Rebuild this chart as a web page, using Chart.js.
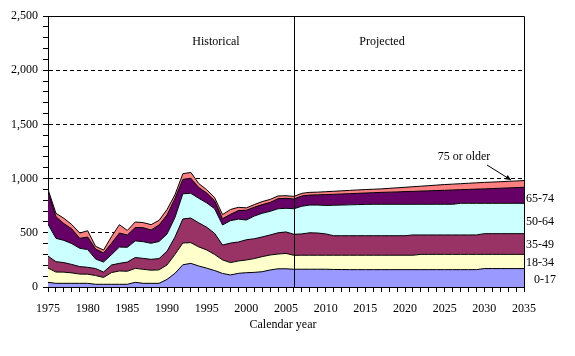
<!DOCTYPE html>
<html>
<head>
<meta charset="utf-8">
<script src="https://cdn.jsdelivr.net/npm/chart.js@4/dist/chart.umd.min.js"></script>
<style>
  html, body { margin: 0; padding: 0; background: #fff; }
  #wrap { width: 575px; height: 356px; }
</style>
</head>
<body>
<div id="wrap"><canvas id="c" width="575" height="356"></canvas></div>
<script>
const years = [1975,1976,1977,1978,1979,1980,1981,1982,1983,1984,1985,1986,1987,1988,1989,1990,
  1991,1992,1993,1994,1995,1996,1997,1998,1999,2000,2001,2002,2003,2004,2005,2006,2007,2008,2009,2010,
  2011,2012,2013,2014,2015,2016,2017,2018,2019,2020,2021,2022,2023,2024,2025,2026,2027,2028,2029,2030,
  2031,2032,2033,2034,2035];

const age0_17 = [43,34,34,34,34,34,25,25,25,25,25,43,34,34,34,70,126,205,218,194,174,152,125,111,126,132,
  135,141,157,168,168,164,164,164,164,164,
  162,161,160,160,160,160,160,160,160,160,160,160,160,160,160,160,160,160,160,
  170,170,170,170,170,170];
const age18_34 = [132,104,103,96,85,84,81,63,108,123,120,129,129,121,124,133,174,201,191,176,168,148,125,114,
  114,117,127,139,138,136,142,128,129,129,129,129,
  131,132,133,133,133,133,133,133,133,133,133,
  141,141,141,141,141,141,141,141,
  131,131,131,131,131,131];
const age35_49 = [110,96,88,78,69,64,64,50,70,70,85,100,101,100,104,127,160,222,227,222,210,195,137,180,175,
  187,183,182,185,196,198,194,197,207,205,197,
  180,180,180,180,180,180,180,180,180,180,
  187,179,179,179,179,179,179,179,179,
  191,191,191,191,191,191];
const age50_64 = [295,215,205,192,169,163,88,92,95,150,136,153,154,148,158,158,180,232,228,226,224,227,185,
  207,211,182,209,218,218,222,218,236,255,256,258,262,
  281,283,285,287,289,290,290,290,290,290,
  283,283,283,283,283,283,292,292,292,
  280,280,280,280,280,280];
const age65_74 = [299,200,155,136,92,116,92,84,105,130,114,124,129,123,152,176,175,133,139,100,91,73,58,58,
  79,90,82,80,82,93,92,90,95,92,94,101,
  101,102,103,104,105,107,110,112,114,117,119,122,124,127,129,132,126,128,131,133,136,139,142,145,148];
const age75plus = [22,31,49,40,49,58,25,27,61,77,42,51,47,49,43,50,35,52,54,37,31,30,38,45,30,22,24,28,28,
  25,24,24,24,25,25,26,28,29,30,31,32,32,32,35,38,40,43,45,48,50,53,54,55,57,58,60,60,60,61,61,62];

const seriesNames = ['0-17','18-34','35-49','50-64','65-74','75 or older'];
const seriesValues = [age0_17, age18_34, age35_49, age50_64, age65_74, age75plus];
const seriesColors = ['#9999FF','#FFFFCC','#993366','#CCFFFF','#660066','#FF8080'];
const yTickLabelStep = 500;
const dividerYear = 2006;

const FONT = '"Liberation Serif", "Times New Roman", serif';

const datasets = seriesNames.map((name, i) => ({
  label: name,
  data: years.map((yr, j) => ({x: yr, y: seriesValues[i][j]})),
  backgroundColor: seriesColors[i],
  borderColor: '#000',
  borderWidth: 1,
  pointRadius: 0,
  tension: 0,
  fill: i === 0 ? 'origin' : '-1'
}));

const annot = {
  id: 'annot',
  afterDatasetsDraw(chart) {
    const {ctx, chartArea: a, scales: {x}} = chart;
    ctx.save();
    ctx.strokeStyle = '#000';
    ctx.lineWidth = 1;
    // plot box top and right
    ctx.beginPath();
    ctx.moveTo(Math.round(a.left), Math.round(a.top) + 0.5);
    ctx.lineTo(Math.round(a.right) + 0.5, Math.round(a.top) + 0.5);
    ctx.lineTo(Math.round(a.right) + 0.5, Math.round(a.bottom));
    ctx.stroke();
    // historical / projected divider
    const xd = Math.round(x.getPixelForValue(dividerYear)) + 0.5;
    ctx.beginPath();
    ctx.moveTo(xd, Math.round(a.top));
    ctx.lineTo(xd, Math.round(a.bottom));
    ctx.stroke();
    // texts
    ctx.fillStyle = '#000';
    ctx.font = '12px ' + FONT;
    ctx.textBaseline = 'middle';
    ctx.textAlign = 'center';
    ctx.fillText('Historical', 216, 42);
    ctx.fillText('Projected', 382, 42);
    ctx.fillText('75 or older', 464, 157);
    ctx.fillText('Calendar year', 283, 325);
    ctx.textAlign = 'left';
    ctx.fillText('65-74', 526, 199);
    ctx.fillText('50-64', 526, 222);
    ctx.fillText('35-49', 526, 245);
    ctx.fillText('18-34', 526, 263);
    ctx.fillText('0-17', 534, 280);
    // arrow
    const x1 = 487, y1 = 165, x2 = 511, y2 = 180;
    ctx.beginPath();
    ctx.moveTo(x1, y1);
    ctx.lineTo(x2, y2);
    ctx.stroke();
    const ang = Math.atan2(y2 - y1, x2 - x1);
    const L = 6, W = 0.45;
    ctx.beginPath();
    ctx.moveTo(x2, y2);
    ctx.lineTo(x2 - L * Math.cos(ang - W), y2 - L * Math.sin(ang - W));
    ctx.lineTo(x2 - L * Math.cos(ang + W), y2 - L * Math.sin(ang + W));
    ctx.closePath();
    ctx.fill();
    ctx.restore();
  }
};

new Chart(document.getElementById('c'), {
  type: 'line',
  data: { datasets },
  plugins: [annot],
  options: {
    responsive: false,
    animation: false,
    events: [],
    layout: { padding: { top: 16, right: 51, left: 0, bottom: 0 } },
    plugins: { legend: { display: false }, tooltip: { enabled: false }, title: { display: false } },
    scales: {
      x: {
        type: 'linear',
        min: years[0],
        max: years[years.length - 1],
        afterFit: s => { s.height = 69; },
        ticks: {
          stepSize: 1,
          autoSkip: false,
          maxRotation: 0,
          padding: 10,
          color: '#000',
          font: { family: FONT, size: 12 },
          callback: v => (v % 5 === 0 ? String(v) : '')
        },
        grid: { drawOnChartArea: false, drawTicks: true, tickLength: 5, tickColor: '#000', color: '#000' },
        border: { color: '#000', width: 1 }
      },
      y: {
        type: 'linear',
        stacked: true,
        min: 0,
        max: 2500,
        afterFit: s => { s.width = 48; },
        ticks: {
          stepSize: 100,
          autoSkip: false,
          padding: 5,
          color: '#000',
          font: { family: FONT, size: 12 },
          callback: v => (v % yTickLabelStep === 0 ? v.toLocaleString('en-US') : '')
        },
        grid: {
          drawOnChartArea: true,
          drawTicks: true,
          tickLength: 5,
          tickColor: '#000',
          color: c => (c.tick && c.tick.value % yTickLabelStep === 0 && c.tick.value > 0 && c.tick.value < 2500) ? '#000' : 'rgba(0,0,0,0)'
        },
        border: { color: '#000', width: 1, dash: [4, 3] }
      }
    }
  }
});
</script>
</body>
</html>
